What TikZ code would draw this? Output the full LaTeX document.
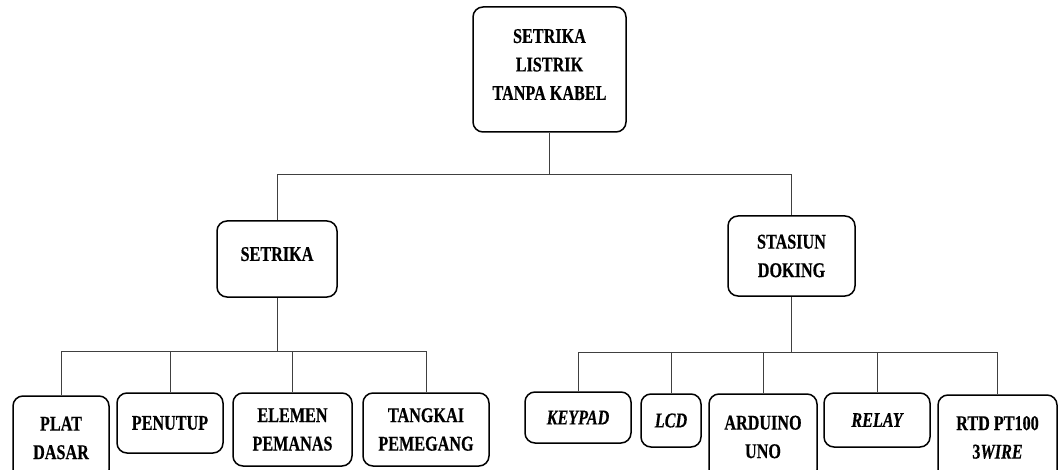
\documentclass[tikz,border=0pt]{standalone}
\usepackage{fontspec}
\setmainfont{Liberation Serif}[FakeStretch=0.77, BoldFeatures={FakeBold=0.4}, BoldItalicFeatures={FakeBold=0.4}]
\usepackage{tikz}
\tikzstyle{blok}=[draw, line width=1.5pt, rounded corners=10pt, align=center, inner sep=0pt, font=\fontsize{21}{28.5}\selectfont\bfseries]
\tikzstyle{garis}=[line width=0.9pt, black!75]
\newcommand{\miring}[1]{{\itshape #1}}

\begin{document}
\begin{tikzpicture}[x=1pt, y=-1pt]
    \useasboundingbox (0,0) rectangle (1059,470);
    \clip (0,0) rectangle (1059,470);

    % top level
    \node[blok, minimum width=153pt, minimum height=125pt, text depth=10pt] (puncak) at (549.5,69.5) {SETRIKA\\LISTRIK\\TANPA KABEL};
    % second level
    \node[blok, minimum width=120pt, minimum height=76pt, text depth=10pt] (setrika) at (277,259) {SETRIKA};
    \node[blok, minimum width=127pt, minimum height=80pt] (stasiun) at (791.5,256) {STASIUN\\DOKING};
    % parts of setrika
    \node[blok, minimum width=96pt, minimum height=84pt] (plat) at (61,438) {PLAT\\DASAR};
    \node[blok, minimum width=106pt, minimum height=60pt] (penutup) at (170,423) {PENUTUP};
    \node[blok, minimum width=119pt, minimum height=73pt] (elemen) at (292.5,429.5) {ELEMEN\\PEMANAS};
    \node[blok, minimum width=126pt, minimum height=73pt] (tangkai) at (426,429.5) {TANGKAI\\PEMEGANG};
    % parts of stasiun doking
    \node[blok, minimum width=106pt, minimum height=51pt] (keypad) at (578,417.5) {\miring{KEYPAD}};
    \node[blok, minimum width=60pt, minimum height=53pt] (lcd) at (671,420.5) {\miring{LCD}};
    \node[blok, minimum width=108pt, minimum height=86pt] (arduino) at (763,437) {ARDUINO\\UNO};
    \node[blok, minimum width=106pt, minimum height=54pt] (relay) at (877,420) {\miring{RELAY}};
    \node[blok, minimum width=119pt, minimum height=85pt] (rtd) at (997.5,437.5) {RTD PT100\\3\miring{WIRE}};

    % bus lines
    \coordinate (bus0) at (0,174);
    \coordinate (bus1) at (0,351);
    \coordinate (bus2) at (0,352);

    % top -> second level
    \draw[garis] (puncak.south) -- (puncak.south |- bus0);
    \draw[garis] (puncak.south |- bus0) -| (setrika.north);
    \draw[garis] (puncak.south |- bus0) -| (stasiun.north);

    % setrika -> parts
    \draw[garis] (setrika.south) -- (setrika.south |- bus1);
    \draw[garis] (setrika.south |- bus1) -| (plat.north);
    \draw[garis] (setrika.south |- bus1) -| (penutup.north);
    \draw[garis] (setrika.south |- bus1) -| (elemen.north);
    \draw[garis] (setrika.south |- bus1) -| (tangkai.north);

    % stasiun doking -> parts
    \draw[garis] (stasiun.south) -- (stasiun.south |- bus2);
    \draw[garis] (stasiun.south |- bus2) -| (keypad.north);
    \draw[garis] (stasiun.south |- bus2) -| (lcd.north);
    \draw[garis] (stasiun.south |- bus2) -| (arduino.north);
    \draw[garis] (stasiun.south |- bus2) -| (relay.north);
    \draw[garis] (stasiun.south |- bus2) -| (rtd.north);
\end{tikzpicture}
\end{document}
